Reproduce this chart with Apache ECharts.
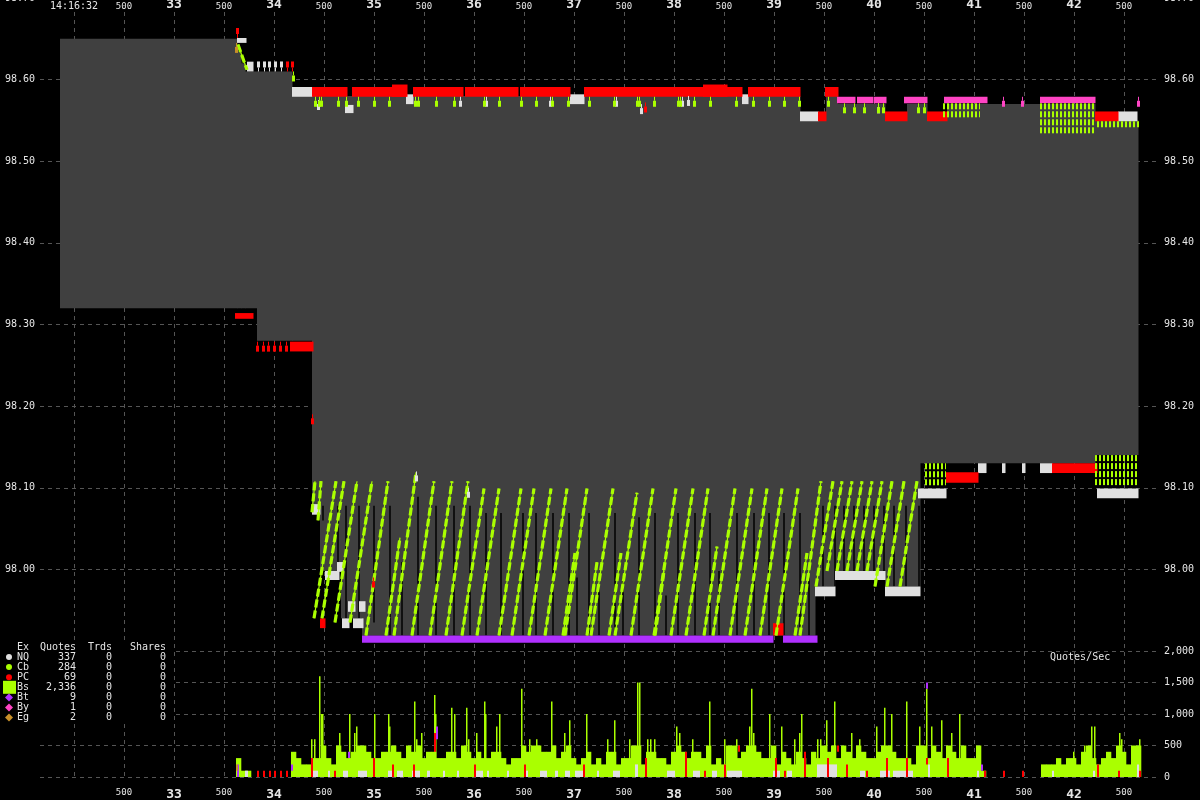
<!DOCTYPE html>
<html><head><meta charset="utf-8">
<script src="https://cdn.jsdelivr.net/npm/echarts@6/dist/echarts.min.js"></script>
<style>html,body{margin:0;padding:0;background:#000;}#c{width:1200px;height:800px;}</style>
</head><body><div id="c"></div>
<script>
// ===================== DATA =====================
// time axis (seconds past 14:16:00)
const startLabel = '14:16:32';
const halfLabel = '500';
// NBBO spread (segment i spans nbboTimes[i]..nbboTimes[i+1])
const nbboTimes = [31.86,33.63,33.67,33.71,33.83,34.18,34.38,34.46,34.67,34.88,39.26,39.41,39.52,39.61,39.63,40.11,40.33,40.46,40.53,40.73,42.21,42.64];
const nbbBid = [98.32,98.32,98.32,98.32,98.28,98.28,98.08,97.998,97.94,97.919,97.919,97.979,97.979,97.998,97.998,97.979,97.979,98.13,98.13,98.13,98.14];
const nbbAsk = [98.65,98.635,98.62,98.61,98.61,98.58,98.58,98.58,98.58,98.58,98.55,98.55,98.58,98.58,98.57,98.55,98.57,98.57,98.55,98.57,98.55];

// quote blocks [t0, t1, priceHigh, priceLow]
const nqBlocks = [
 [33.63,33.72,98.651,98.645],[33.73,33.79,98.622,98.610],[34.18,34.38,98.591,98.579],[34.71,34.79,98.569,98.559],
 [35.32,35.39,98.582,98.570],[36.96,37.10,98.582,98.570],[38.68,38.74,98.582,98.570],[39.26,39.44,98.561,98.549],
 [42.44,42.63,98.561,98.549],
 [34.38,34.46,98.080,98.067],[34.51,34.65,97.998,97.987],[34.63,34.69,98.009,97.997],[34.68,34.75,97.940,97.928],
 [34.74,34.81,97.961,97.948],[34.79,34.89,97.940,97.928],[34.85,34.91,97.961,97.948],[39.41,39.61,97.979,97.967],
 [39.61,40.11,97.998,97.987],[40.11,40.46,97.979,97.967],[40.44,40.72,98.099,98.087],[41.04,41.12,98.130,98.118],
 [41.28,41.31,98.130,98.118],[41.48,41.51,98.130,98.118],[41.66,41.78,98.130,98.118],[42.23,42.64,98.099,98.087]
];
const pcBlocks = [
 [34.38,34.73,98.591,98.579],[34.78,35.32,98.591,98.579],[35.18,35.33,98.594,98.579],[35.39,35.89,98.591,98.579],
 [35.91,36.44,98.591,98.579],[36.46,36.96,98.591,98.579],[37.10,38.06,98.591,98.579],[38.06,38.68,98.591,98.579],
 [38.29,38.53,98.594,98.579],[38.74,39.26,98.591,98.579],[39.44,39.52,98.561,98.549],[39.51,39.64,98.591,98.579],
 [40.11,40.33,98.561,98.549],[40.53,40.73,98.561,98.549],[42.21,42.44,98.561,98.549],
 [33.61,33.79,98.314,98.307],[34.16,34.39,98.279,98.267],[34.46,34.51,97.940,97.928],[38.99,39.09,97.934,97.919],
 [40.72,41.04,98.119,98.106],[41.78,42.23,98.130,98.118]
];
const byBlocks = [
 [39.63,39.81,98.579,98.571],[39.83,39.99,98.579,98.571],[40.00,40.12,98.579,98.571],[40.30,40.53,98.579,98.571],
 [40.70,41.13,98.579,98.571],[41.66,42.21,98.579,98.571]
];
const btBlocks = [[34.88,38.99,97.919,97.910],[39.09,39.43,97.919,97.910]];

// single quote pins [t, price, direction(1 up / -1 down)]
const nqPins = [
 [33.83,98.61,1],[33.89,98.61,1],[33.94,98.61,1],[34.00,98.61,1],[34.06,98.61,1],
 [34.43,98.575,-1],[35.85,98.579,-1],[36.11,98.579,-1],[36.75,98.579,-1],[37.41,98.579,-1],[37.66,98.570,-1],
 [38.07,98.579,-1],[38.13,98.580,-1],[40.03,98.571,-1],[35.41,98.12,-1],[35.93,98.10,-1]
];
const pcPins = [
 [34.12,98.61,1],[34.17,98.61,1],[33.62,98.651,1],[37.70,98.572,-1],
 [33.82,98.279,-1],[33.88,98.279,-1],[33.93,98.279,-1],[33.99,98.279,-1],[34.05,98.279,-1],[34.11,98.279,-1],
 [34.37,98.19,-1],[34.98,97.99,-1]
];
const cbPins = [
 [34.18,98.61,-1],[34.40,98.579,-1],[34.44,98.579,-1],[34.46,98.579,-1],[34.63,98.579,-1],[34.71,98.579,-1],
 [34.83,98.579,-1],[34.99,98.579,-1],[35.14,98.579,-1],[35.40,98.579,-1],[35.43,98.579,-1],[35.61,98.579,-1],
 [35.79,98.579,-1],[36.09,98.579,-1],[36.24,98.579,-1],[36.46,98.579,-1],[36.61,98.579,-1],[36.77,98.579,-1],
 [36.93,98.579,-1],[37.14,98.579,-1],[37.39,98.579,-1],[37.62,98.579,-1],[37.64,98.579,-1],[37.79,98.579,-1],
 [38.03,98.579,-1],[38.05,98.579,-1],[38.19,98.579,-1],[38.35,98.579,-1],[38.61,98.579,-1],[38.78,98.579,-1],
 [38.94,98.579,-1],[39.09,98.579,-1],[39.24,98.579,-1],[39.53,98.579,-1],[39.69,98.571,-1],[39.79,98.571,-1],
 [39.89,98.571,-1],[40.03,98.571,-1],[40.08,98.571,-1],[40.43,98.571,-1],[40.49,98.571,-1]
];
const egPins = [[33.61,98.645,-1]];
const byPins = [[41.28,98.579,-1],[41.47,98.579,-1],[42.63,98.579,-1]];

// Bs bid ramps [t0, p0, t1, p1]
const bsRamps = [
 [33.64,98.643,33.73,98.612],
 [34.38,98.070,34.41,98.108],[34.44,98.060,34.47,98.108],
 [34.40,97.940,34.62,98.108],[34.48,97.940,34.70,98.108],[34.61,97.935,34.83,98.108],[34.76,97.935,34.98,98.108],
 [34.92,97.919,35.14,98.108],[35.12,97.919,35.26,98.039],[35.20,97.919,35.42,98.119],[35.38,97.919,35.60,98.108],
 [35.56,97.919,35.78,98.108],[35.72,97.919,35.94,98.108],[35.88,97.919,36.10,98.099],[36.03,97.919,36.25,98.099],
 [36.25,97.919,36.47,98.099],[36.38,97.919,36.60,98.099],[36.55,97.919,36.77,98.099],[36.71,97.919,36.93,98.099],
 [36.89,97.919,37.01,98.020],[36.91,97.919,37.13,98.099],[37.13,97.919,37.23,98.009],[37.17,97.919,37.39,98.099],
 [37.35,97.919,37.47,98.020],[37.41,97.919,37.63,98.094],[37.57,97.919,37.79,98.099],[37.81,97.919,37.90,97.998],
 [37.80,97.919,38.02,98.099],[37.97,97.919,38.19,98.099],[38.12,97.919,38.34,98.099],[38.30,97.919,38.43,98.028],
 [38.39,97.919,38.61,98.099],[38.56,97.919,38.78,98.099],[38.71,97.919,38.93,98.099],[38.86,97.919,39.08,98.099],
 [39.02,97.919,39.24,98.099],[39.21,97.919,39.33,98.020],[39.26,97.919,39.47,98.108],
 [39.42,97.979,39.59,98.108],[39.53,97.998,39.68,98.108],[39.63,97.998,39.78,98.108],[39.73,97.998,39.88,98.108],
 [39.83,97.998,39.98,98.108],[39.93,97.998,40.08,98.108],[40.01,97.979,40.18,98.108],[40.13,97.979,40.30,98.108],
 [40.26,97.979,40.43,98.108]
];
// Bs dense quoting zones [t0, t1, priceHigh, priceLow]
const bsDense = [
 [40.69,41.06,98.571,98.549],[41.66,42.21,98.571,98.539],[42.23,42.66,98.549,98.539],
 [40.51,40.72,98.130,98.107],[42.21,42.64,98.140,98.099]
];

// Quotes/Sec panel
const qpsBinStart = 33.62, qpsBinWidth = 0.05;
const qpsFill = [
 300,100,100,0,0,0,0,0,0,0,0,
 400,300,200,200,300,300,500,300,200,500, 400,300,400,500,500,400,300,300,400,400,
 500,400,300,500,400,500,300,400,400,300, 300,400,400,300,500,400,300,400,300,300,
 400,400,300,200,300,300,500,400,500,500, 400,400,500,300,400,500,
 300,200,300,400,200,300,200,400,400,200, 300,300,500,500,200,400,400,300,300,200,
 400,500,400,300,400,400,300,500,200,300, 200,500,500,300,400,500,500,400,300,300,
 500,200,400,300,200,400,300,200,400,300, 500,400,500,300,500,400,300,500,400,300,
 300,400,500,500,400,300,
 300,300,200,500,500,300,500,400,300,500,400,300,500,300,300,500,100,
 0,0,0,0,0,0,0,0,0,0,0,
 200,200,200,300,200,300,300,200,400,500,300,200,300,400,300,500,400,200,500,500
];
const qpsSpikes = [
 [34.37,600],[34.40,600],[34.45,1600],[34.47,1000],[34.48,1000],[34.65,700],[34.75,1000],[34.80,700],[34.82,800],
 [35.00,1000],[35.14,1000],[35.15,800],[35.40,1200],[35.42,600],[35.47,700],[35.60,1300],[35.61,1000],[35.77,1100],
 [35.80,1000],[35.92,1100],[35.94,600],[36.02,700],[36.10,1200],[36.11,1000],[36.22,800],[36.25,1000],[36.47,1400],
 [36.55,600],[36.62,600],[36.77,1200],[36.90,700],[36.95,900],[37.12,1000],[37.33,600],[37.40,900],[37.55,600],
 [37.63,1500],[37.65,1500],[37.73,600],[37.76,600],[37.80,600],[38.02,800],[38.05,700],[38.18,600],[38.35,1200],
 [38.50,600],[38.62,600],[38.75,800],[38.77,1400],[38.79,700],[38.95,1000],[39.07,800],[39.20,600],[39.25,700],
 [39.27,1000],[39.43,600],[39.46,600],[39.52,900],[39.60,1200],[39.77,700],[39.85,600],[40.02,800],[40.10,1100],
 [40.17,1000],[40.32,1200],[40.45,800],[40.52,1400],[40.57,800],[40.67,900],[40.77,700],[40.85,1000],
 [41.99,400],[42.10,500],[42.17,800],[42.20,800],[42.45,700],[42.47,600],[42.65,600]
];
const qpsNQ = [
 [33.71,33.74,100],[34.39,34.44,100],[34.54,34.56,100],[34.69,34.74,100],[34.84,34.93,100],[35.14,35.19,100],
 [35.23,35.29,100],[35.38,35.40,100],[35.41,35.46,100],[35.53,35.56,100],[35.69,35.71,100],[35.83,35.85,100],
 [36.01,36.09,100],[36.13,36.15,100],[36.33,36.35,100],[36.51,36.54,100],[36.66,36.73,100],[36.81,36.84,100],
 [36.91,36.96,100],[37.01,37.09,100],[37.23,37.25,100],[37.39,37.46,100],[37.61,37.64,200],[37.93,38.01,100],
 [38.19,38.26,100],[38.38,38.43,100],[38.53,38.68,100],[38.99,39.06,100],[39.13,39.18,100],[39.43,39.63,200],
 [39.86,39.91,100],[40.06,40.16,100],[40.19,40.26,100],[40.26,40.39,100],[40.54,40.56,200],[41.03,41.05,100],
 [41.78,41.80,100],[42.19,42.21,100],[42.63,42.65,200]
];
const qpsPC = [
 [33.83,0,100],[33.89,0,100],[33.95,0,100],[34.00,0,100],[34.06,0,100],[34.12,0,100],[34.37,0,300],[34.60,0,100],
 [34.99,0,300],[35.18,0,200],[35.39,0,200],[35.60,400,700],[36.00,0,200],[36.50,0,200],[37.09,0,200],[37.71,0,300],
 [38.11,0,400],[38.30,0,100],[38.50,0,200],[38.64,400,500],[39.01,0,300],[39.10,0,100],[39.30,0,400],[39.53,0,300],
 [39.63,400,500],[39.72,0,200],[39.92,0,100],[40.12,0,300],[40.32,0,300],[40.52,200,300],[40.73,0,300],
 [41.10,0,100],[41.29,0,100],[41.48,0,100],[42.23,0,200],[42.44,0,100],[42.65,0,100]
];
const qpsBt = [[33.63,0,200],[34.17,100,200],[34.74,300,400],[35.62,600,800],[40.52,1400,1500],[41.07,100,200]];
const qpsEg = [[33.62,100,200]];

// legend table
const exNames = ['NQ','Cb','PC','Bs','Bt','By','Eg'];
const exQuotes = [337,284,69,2336,9,1,2];
const exTrds = [0,0,0,0,0,0,0];
const exShares = [0,0,0,0,0,0,0];

// ===================== STYLE =====================
const GREEN='#aaff00', WHITE='#e0e0e0', RED='#ff0000', PURPLE='#b030ff', PINK='#ff44c4', ORANGE='#c8902a', GRAY='#404040';
const TXT='#e6e6e6', GRID='#555555';
const FONT='"DejaVu Sans Mono", monospace';
const exColors=[WHITE,GREEN,RED,GREEN,PURPLE,PINK,ORANGE];
const exIcons=['circle','circle','circle','square','diamond','diamond','diamond'];

// ===================== RENDERERS =====================
function blockRender(color){
  return function(p, api){
    const a = api.coord([api.value(0), api.value(2)]);
    const b = api.coord([api.value(1), api.value(3)]);
    return {type:'rect', shape:{x:a[0], y:a[1], width:Math.max(1,b[0]-a[0]+0.5), height:Math.max(1,b[1]-a[1])}, style:{fill:color}};
  };
}
function pinRender(color){
  return function(p, api){
    const c = api.coord([api.value(0), api.value(1)]);
    const d = api.value(2);
    const x = Math.round(c[0]);
    const y0 = c[1], y1 = y0 - d*4, y2 = y0 - d*10;
    return {type:'group', children:[
      {type:'line', shape:{x1:x+1.5, y1:y0, x2:x+1.5, y2:y1}, style:{stroke:color, lineWidth:1}},
      {type:'rect', shape:{x:x, y:Math.min(y1,y2), width:3, height:6}, style:{fill:color}}
    ]};
  };
}
function rampRender(p, api){
  const a = api.coord([api.value(0), api.value(1)]);
  const b = api.coord([api.value(2), api.value(3)]);
  return {type:'group', children:[
    {type:'line', shape:{x1:a[0],y1:a[1],x2:b[0],y2:b[1]}, style:{stroke:GREEN, lineWidth:1.2}},
    {type:'line', shape:{x1:a[0],y1:a[1],x2:b[0],y2:b[1]}, style:{stroke:GREEN, lineWidth:3.2, lineDash:[8,3]}}
  ]};
}
function blackRender(p, api){
  const t = api.coord([api.value(2), api.value(3)-0.03]);
  const b = api.coord([api.value(2), api.value(1)]);
  if (b[1] - t[1] < 2) return null;
  return {type:'line', shape:{x1:t[0]+2, y1:t[1], x2:t[0]+2, y2:b[1]}, style:{stroke:'#000', lineWidth:1.5}};
}
function denseRender(p, api){
  const a = api.coord([api.value(0), api.value(2)]);
  const b = api.coord([api.value(1), api.value(3)]);
  const ch=[];
  for (let y=a[1]+3; y<b[1]+1; y+=8) ch.push({type:'line', shape:{x1:a[0],y1:y,x2:b[0],y2:y}, style:{stroke:GREEN,lineWidth:6,lineDash:[2,2]}});
  return {type:'group', children:ch};
}
function fillRender(p, api){
  const a = api.coord([api.value(0), api.value(1)]);
  const b = api.coord([api.value(0)+qpsBinWidth, 0]);
  if (b[1]-a[1] < 0.5) return null;
  return {type:'rect', shape:{x:a[0], y:a[1], width:b[0]-a[0]+0.3, height:b[1]-a[1]}, style:{fill:GREEN}};
}
function spikeRender(color, w){
  return function(p, api){
    const a = api.coord([api.value(0), api.value(1)]);
    const b = api.coord([api.value(0), 0]);
    return {type:'rect', shape:{x:a[0], y:a[1], width:w, height:b[1]-a[1]}, style:{fill:color}};
  };
}
function segRender(color, w){
  return function(p, api){
    const a = api.coord([api.value(0), api.value(2)]);
    const b = api.coord([api.value(0), api.value(1)]);
    return {type:'rect', shape:{x:a[0], y:a[1], width:w, height:b[1]-a[1]}, style:{fill:color}};
  };
}
function nqBarRender(p, api){
  const a = api.coord([api.value(0), api.value(2)]);
  const b = api.coord([api.value(1), 0]);
  return {type:'rect', shape:{x:a[0], y:a[1], width:Math.max(1.5,b[0]-a[0]), height:b[1]-a[1]}, style:{fill:WHITE}};
}

function cs(data, render, panel){
  return {type:'custom', data:data, renderItem:render, xAxisIndex: panel===0?0:1, yAxisIndex: panel===0?0:2, silent:true, animation:false};
}

const spread = nbbBid.map((b,i)=>[nbboTimes[i], nbboTimes[i+1], nbbAsk[i], b]);
const fillData = qpsFill.map((v,i)=>[qpsBinStart + i*qpsBinWidth, v]);

// ===================== LEGEND GRAPHIC =====================
const g = [{type:'rect', z:100, shape:{x:0,y:640,width:173,height:83}, style:{fill:'#000'}}];
function txt(s, x, y, align){ return {type:'text', z:101, x:x, y:y, style:{text:s, fill:TXT, font:'10px '+FONT, textAlign:align, textVerticalAlign:'middle'}}; }
g.push(txt('Ex',17,647,'left'), txt('Quotes',76,647,'right'), txt('Trds',112,647,'right'), txt('Shares',166,647,'right'));
exNames.forEach((n,i)=>{
  const y = 657 + i*10.1;
  const c = exColors[i];
  if (exIcons[i]==='circle') g.push({type:'circle', z:101, shape:{cx:9,cy:y,r:3}, style:{fill:c}});
  else if (exIcons[i]==='square') g.push({type:'rect', z:101, shape:{x:3,y:y-6.5,width:13,height:13}, style:{fill:c}});
  else g.push({type:'polygon', z:101, shape:{points:[[9,y-4],[13,y],[9,y+4],[5,y]]}, style:{fill:c}});
  g.push(txt(n,17,y,'left'), txt(exQuotes[i].toLocaleString('en-US'),76,y,'right'), txt(String(exTrds[i]),112,y,'right'), txt(String(exShares[i]),166,y,'right'));
});
g.push({type:'text', z:101, x:1050, y:657, style:{text:'Quotes/Sec', fill:TXT, font:'10px '+FONT, textAlign:'left', textVerticalAlign:'middle'}});

// ===================== OPTION =====================
const dash = {type:[4,4], color:GRID, width:1};
function timeFmtTop(v){
  if (Math.abs(v-32) < 1e-6) return '{t|'+startLabel+'}';
  const f = v - Math.floor(v);
  if (Math.abs(f-0.5) < 1e-6) return '{h|'+halfLabel+'}';
  return '{s|'+Math.round(v)+'}';
}
function timeFmtBottom(v){
  if (Math.abs(v-32) < 1e-6) return '';
  return timeFmtTop(v);
}
const timeRich = {
  t:{fontSize:10, fontFamily:FONT, color:TXT},
  h:{fontSize:9, fontFamily:FONT, color:TXT},
  s:{fontSize:13, fontWeight:'bold', fontFamily:FONT, color:TXT}
};
function priceFmt(v){ return v < 97.95 ? '' : v.toFixed(2); }

const option = {
  backgroundColor:'#000',
  animation:false,
  graphic:g,
  grid:[
    {left:40, right:40, top:-2, height:653, outerBoundsMode:'none', containLabel:false},
    {left:40, right:40, top:651, height:126, outerBoundsMode:'none', containLabel:false},
    {left:24, right:26, top:12, height:768, outerBoundsMode:'none', containLabel:false}
  ],
  xAxis:[
    {gridIndex:0, type:'value', min:31.66, max:42.86, show:false},
    {gridIndex:1, type:'value', min:31.66, max:42.86, show:false},
    {gridIndex:2, type:'value', min:31.5, max:43, interval:0.5, position:'bottom',
      axisLine:{show:false}, axisTick:{show:false},
      splitLine:{show:true, lineStyle:dash, showMinLine:false, showMaxLine:false},
      axisLabel:{formatter:timeFmtBottom, rich:timeRich, margin:8, showMinLabel:false, showMaxLabel:false}},
    {gridIndex:2, type:'value', min:31.5, max:43, interval:0.5, position:'top',
      axisLine:{show:false}, axisTick:{show:false}, splitLine:{show:false},
      axisLabel:{formatter:timeFmtTop, rich:timeRich, margin:1, showMinLabel:false, showMaxLabel:false}}
  ],
  yAxis:[
    {gridIndex:0, type:'value', min:97.9, max:98.7, interval:0.1, position:'left',
      axisLine:{show:false}, axisTick:{show:false}, splitLine:{show:true, lineStyle:dash},
      axisLabel:{formatter:priceFmt, color:TXT, fontFamily:FONT, fontSize:10, margin:5}},
    {gridIndex:0, type:'value', min:97.9, max:98.7, interval:0.1, position:'right',
      axisLine:{show:false}, axisTick:{show:false}, splitLine:{show:false},
      axisLabel:{formatter:priceFmt, color:TXT, fontFamily:FONT, fontSize:10, margin:4}},
    {gridIndex:1, type:'value', min:0, max:2000, interval:500, position:'right',
      axisLine:{show:false}, axisTick:{show:false}, splitLine:{show:true, lineStyle:dash},
      axisLabel:{formatter:(v)=>v.toLocaleString('en-US'), color:TXT, fontFamily:FONT, fontSize:10, margin:4}},
    {gridIndex:2, type:'value', min:0, max:1, show:false}
  ],
  series:[
    cs(spread, blockRender(GRAY), 0),
    cs(bsRamps.slice(1), blackRender, 0),
    cs(btBlocks, blockRender(PURPLE), 0),
    cs(nqBlocks, blockRender(WHITE), 0),
    cs(pcBlocks, blockRender(RED), 0),
    cs(byBlocks, blockRender(PINK), 0),
    cs(bsRamps, rampRender, 0),
    cs(bsDense, denseRender, 0),
    cs(nqPins, pinRender(WHITE), 0),
    cs(pcPins, pinRender(RED), 0),
    cs(cbPins, pinRender(GREEN), 0),
    cs(egPins, pinRender(ORANGE), 0),
    cs(byPins, pinRender(PINK), 0),
    cs(fillData, fillRender, 1),
    cs(qpsSpikes, spikeRender(GREEN, 1.5), 1),
    cs(qpsNQ, nqBarRender, 1),
    cs(qpsPC, segRender(RED, 2), 1),
    cs(qpsBt, segRender(PURPLE, 2), 1),
    cs(qpsEg, segRender(ORANGE, 2), 1)
  ]
};
const chart = echarts.init(document.getElementById('c'), null, {renderer:'canvas'});
chart.setOption(option);
</script>
</body></html>
